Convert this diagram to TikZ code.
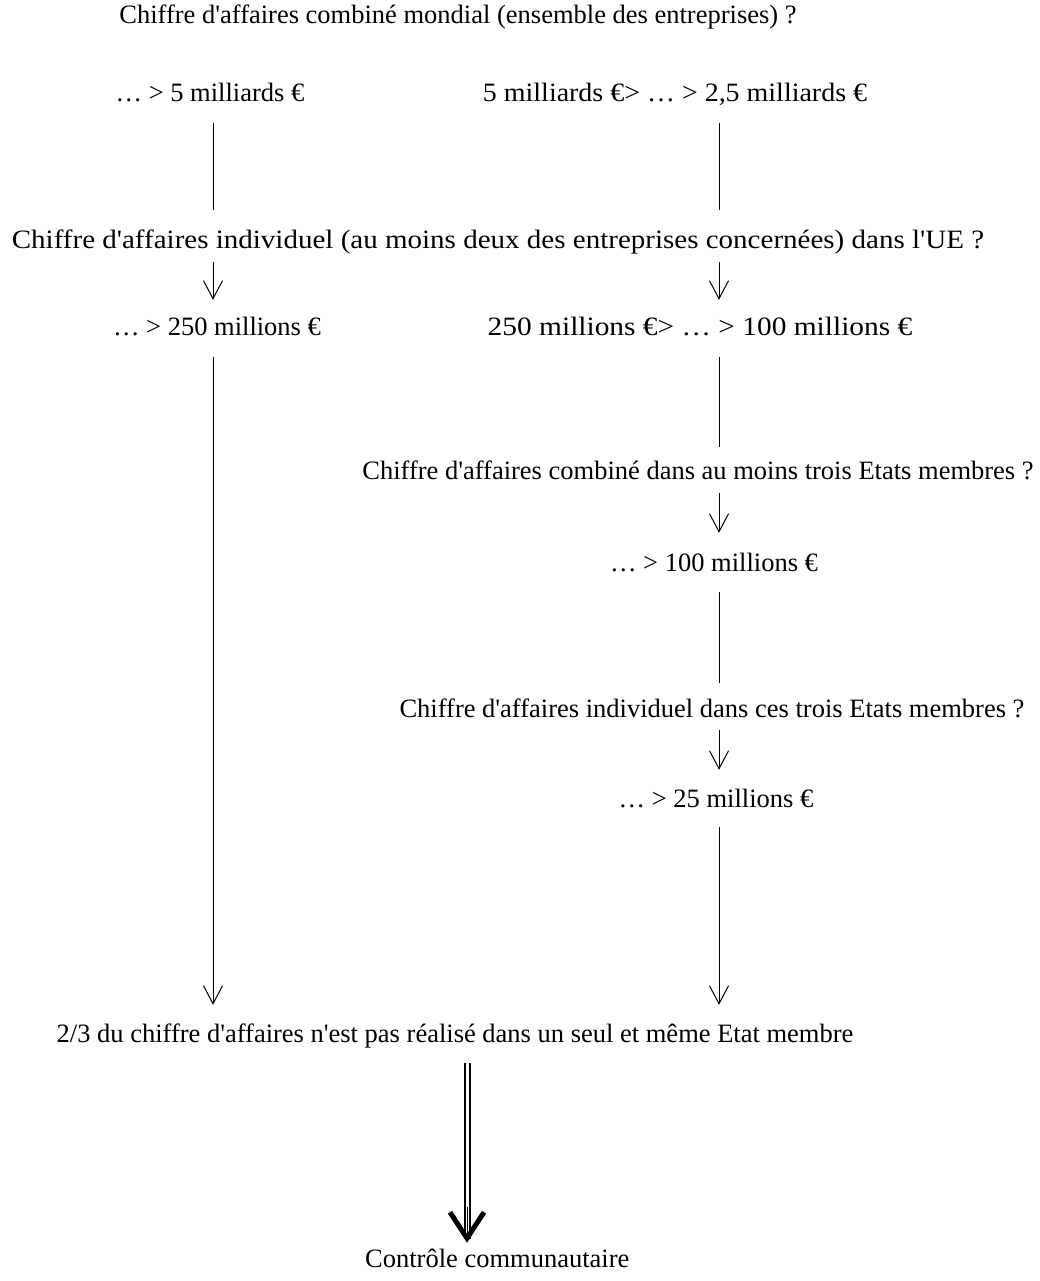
\documentclass[tikz,border=0pt]{standalone}
\usepackage{fontspec}
\usepackage{graphicx}
\setmainfont{Liberation Serif}[Ligatures=TeXOff]
\usetikzlibrary{arrows.meta}
\begin{document}
\begin{tikzpicture}[x=1pt,y=-1pt,
  txt/.style={inner sep=0pt, text height=15pt, text depth=5pt, font=\fontsize{26.5}{30}\selectfont},
  plain/.style={line width=1pt},
  arr/.style={line width=1pt, -{Straight Barb[length=18pt,width=19pt,line width=1pt]}},
]
\useasboundingbox (0,0) rectangle (1040,1281);
\node[txt] (title) at (458,19) {Chiffre d'affaires combiné mondial (ensemble des entreprises) ?};
\node[txt] (a5) at (210,97) {… > 5 milliards €};
\node[txt] (b5) at (675,97) {\scalebox{1.055}[1]{5 milliards €> … > 2,5 milliards €}};
\node[txt] (q2) at (498,243) {\scalebox{1.095}[1]{Chiffre d'affaires individuel (au moins deux des entreprises concernées) dans l'UE ?}};
\node[txt] (a250) at (217,330) {… > 250 millions €};
\node[txt] (b250) at (700,330) {\scalebox{1.11}[1]{250 millions €> … > 100 millions €}};
\node[txt] (q3) at (698,474) {Chiffre d'affaires combiné dans au moins trois Etats membres ?};
\node[txt] (c100) at (714,566) {… > 100 millions €};
\node[txt] (q4) at (712,712) {Chiffre d'affaires individuel dans ces trois Etats membres ?};
\node[txt] (c25) at (716,802) {… > 25 millions €};
\node[txt] (fin) at (455,1037) {2/3 du chiffre d'affaires n'est pas réalisé dans un seul et même Etat membre};
\node[txt, anchor=west] (ctrl) at (365,1262) {Contrôle communautaire};
\coordinate (L) at (213,0);
\coordinate (R) at (719,0);
\coordinate (M) at (467,0);
% left column
\draw[plain, shorten <=16pt, shorten >=23pt] (a5.south -| L) -- (q2.north -| L);
\draw[arr, shorten <=9pt, shorten >=20pt] (q2.south -| L) -- (a250.north -| L);
\draw[arr, shorten <=17pt, shorten >=22pt] (a250.south -| L) -- (fin.north -| L);
% right column
\draw[plain, shorten <=16pt, shorten >=23pt] (b5.south -| R) -- (q2.north -| R);
\draw[arr, shorten <=9pt, shorten >=20pt] (q2.south -| R) -- (b250.north -| R);
\draw[plain, shorten <=17pt, shorten >=17pt] (b250.south -| R) -- (q3.north -| R);
\draw[arr, shorten <=9pt, shorten >=23pt] (q3.south -| R) -- (c100.north -| R);
\draw[plain, shorten <=16pt, shorten >=19pt] (c100.south -| R) -- (q4.north -| R);
\draw[arr, shorten <=8pt, shorten >=22pt] (q4.south -| R) -- (c25.north -| R);
\draw[arr, shorten <=15pt, shorten >=22pt] (c25.south -| R) -- (fin.north -| R);
% double arrow
\draw[line width=2pt, double, double distance=3pt, shorten <=16pt, shorten >=13pt] (fin.south -| M) -- (ctrl.north -| M);
\draw[line width=1pt, shorten <=160pt, shorten >=9pt, -{Straight Barb[length=26pt,width=34pt,line width=5pt]}] (fin.south -| M) -- (ctrl.north -| M);
\end{tikzpicture}
\end{document}
